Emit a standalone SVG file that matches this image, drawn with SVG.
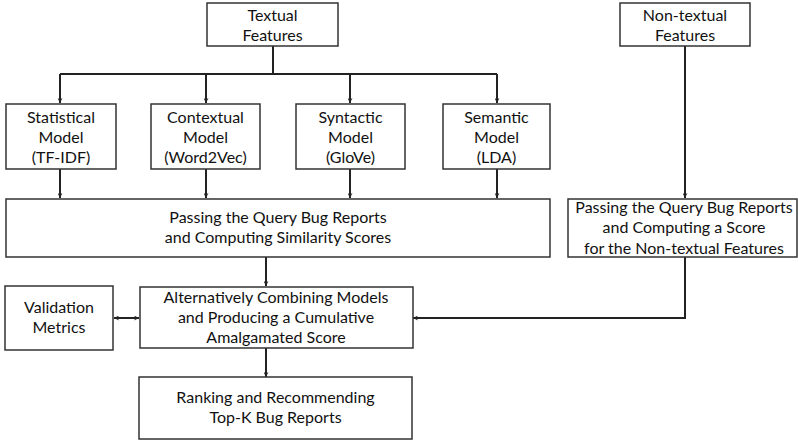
<svg xmlns="http://www.w3.org/2000/svg" width="798" height="443" viewBox="0 0 798 443">
<defs>
<marker id="ah" viewBox="0 0 10 10" refX="10" refY="5" markerWidth="5" markerHeight="5" orient="auto-start-reverse" markerUnits="userSpaceOnUse">
<path d="M0,0 L10,5 L0,10 L3,5 z" fill="#222"/>
</marker>
<style>
.box{fill:#fff;stroke:#333;stroke-width:1.5}
.t{font-family:Lato,"Open Sans","Liberation Sans",sans-serif;font-size:16px;fill:#111;text-anchor:middle}
.c{fill:none;stroke:#222;stroke-width:2}
</style>
</defs>
<rect width="798" height="443" fill="#fff"/>
<g id="connectors">
<path class="c" d="M273,46 V74" stroke-width="3"/>
<path class="c" d="M60,74 H497"/>
<path class="c" d="M60,74 V103" marker-end="url(#ah)"/>
<path class="c" d="M206,74 V103" marker-end="url(#ah)"/>
<path class="c" d="M350,74 V103" marker-end="url(#ah)"/>
<path class="c" d="M497,74 V103" marker-end="url(#ah)"/>
<path class="c" d="M60,169 V198" marker-end="url(#ah)"/>
<path class="c" d="M206,169 V198" marker-end="url(#ah)"/>
<path class="c" d="M350,169 V198" marker-end="url(#ah)"/>
<path class="c" d="M497,169 V198" marker-end="url(#ah)"/>
<path class="c" d="M685,46 V198" marker-end="url(#ah)"/>
<path class="c" d="M266,257 V286" marker-end="url(#ah)"/>
<path class="c" d="M685,257 V318 H413" marker-end="url(#ah)"/>
<path class="c" d="M114,318 H139" marker-start="url(#ah)" marker-end="url(#ah)"/>
<path class="c" d="M266,348 V377" marker-end="url(#ah)"/>
</g>
<g id="textual">
<rect class="box" x="207" y="3" width="131" height="43"/>
<text class="t" x="272.5" y="21">Textual</text>
<text class="t" x="272.5" y="41">Features</text>
</g>
<g id="nontextual">
<rect class="box" x="620" y="3" width="130" height="43"/>
<text class="t" x="685" y="21">Non-textual</text>
<text class="t" x="685" y="41">Features</text>
</g>
<g id="statistical">
<rect class="box" x="6" y="104" width="110" height="65"/>
<text class="t" x="61" y="123">Statistical</text>
<text class="t" x="61" y="143">Model</text>
<text class="t" x="61" y="163">(TF-IDF)</text>
</g>
<g id="contextual">
<rect class="box" x="151" y="104" width="109" height="65"/>
<text class="t" x="205.5" y="123">Contextual</text>
<text class="t" x="205.5" y="143">Model</text>
<text class="t" x="205.5" y="163">(Word2Vec)</text>
</g>
<g id="syntactic">
<rect class="box" x="296" y="104" width="109" height="65"/>
<text class="t" x="350.5" y="123">Syntactic</text>
<text class="t" x="350.5" y="143">Model</text>
<text class="t" x="350.5" y="163">(GloVe)</text>
</g>
<g id="semantic">
<rect class="box" x="443" y="104" width="107" height="65"/>
<text class="t" x="496.5" y="123">Semantic</text>
<text class="t" x="496.5" y="143">Model</text>
<text class="t" x="496.5" y="163">(LDA)</text>
</g>
<g id="similarity">
<rect class="box" x="6" y="199" width="544" height="58"/>
<text class="t" x="278" y="223">Passing the Query Bug Reports</text>
<text class="t" x="278" y="243">and Computing Similarity Scores</text>
</g>
<g id="nontextualscore">
<rect class="box" x="568" y="199" width="229" height="58"/>
<text class="t" x="684" y="213">Passing the Query Bug Reports</text>
<text class="t" x="684" y="233">and Computing a Score</text>
<text class="t" x="684" y="254">for the Non-textual Features</text>
</g>
<g id="validation">
<rect class="box" x="5" y="286" width="108" height="64"/>
<text class="t" x="59" y="313">Validation</text>
<text class="t" x="59" y="333">Metrics</text>
</g>
<g id="combine">
<rect class="box" x="140" y="287" width="273" height="61"/>
<text class="t" x="276" y="303">Alternatively Combining Models</text>
<text class="t" x="276" y="323">and Producing a Cumulative</text>
<text class="t" x="276" y="343">Amalgamated Score</text>
</g>
<g id="ranking">
<rect class="box" x="139" y="377" width="273" height="62"/>
<text class="t" x="275.5" y="403">Ranking and Recommending</text>
<text class="t" x="275.5" y="423">Top-K Bug Reports</text>
</g>
</svg>
